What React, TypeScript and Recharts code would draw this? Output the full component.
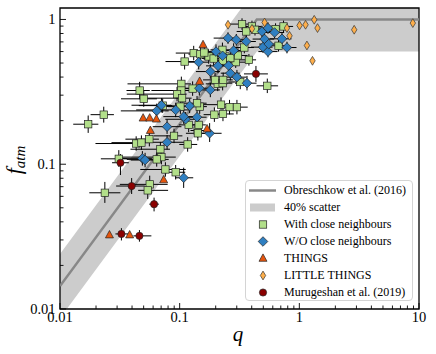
import React from "react";
import {
  ComposedChart,
  XAxis,
  YAxis,
  Scatter,
  Line,
  Area,
  ErrorBar,
  ReferenceArea,
  Label,
} from "recharts";

// Obreschkow et al. (2016) model: knee points of the power law (log-log straight segments)
const modelQ = [0.01, 0.4414, 10];
const modelF = [0.0144, 1, 1];
const bandLo = [0.00864, 0.6, 0.6];
const bandHi = [0.024, 1.667, 1.667];

const xTicks = [
  0.01, 0.02, 0.03, 0.04, 0.05, 0.06, 0.07, 0.08, 0.09,
  0.1, 0.2, 0.3, 0.4, 0.5, 0.6, 0.7, 0.8, 0.9,
  1, 2, 3, 4, 5, 6, 7, 8, 9, 10,
];
const yTicks = [
  0.01, 0.02, 0.03, 0.04, 0.05, 0.06, 0.07, 0.08, 0.09,
  0.1, 0.2, 0.3, 0.4, 0.5, 0.6, 0.7, 0.8, 0.9, 1,
];

// rows: [q, f_atm, q err low (dex), q err high (dex), f err low (dex), f err high (dex)]
const withNeighbours = [
  [0.0172, 0.189, 0.125, 0.085, 0.06, 0.06],
  [0.0232, 0.22, 0.11, 0.085, 0.055, 0.055],
  [0.0463, 0.323, 0.11, 0.085, 0.06, 0.06],
  [0.0501, 0.283, 0.19, 0.11, 0.055, 0.055],
  [0.031, 0.109, 0.15, 0.07, 0.055, 0.06],
  [0.0237, 0.0635, 0.13, 0.13, 0.07, 0.075],
  [0.0433, 0.139, 0.34, 0.05, 0.05, 0.05],
  [0.0479, 0.141, 0.25, 0.06, 0.05, 0.05],
  [0.0558, 0.149, 0.2, 0.08, 0.05, 0.05],
  [0.069, 0.127, 0.25, 0.08, 0.05, 0.05],
  [0.0704, 0.112, 0.33, 0.12, 0.05, 0.05],
  [0.0643, 0.108, 0.25, 0.1, 0.05, 0.05],
  [0.0897, 0.157, 0.17, 0.07, 0.05, 0.05],
  [0.1166, 0.137, 0.07, 0.08, 0.05, 0.05],
  [0.076, 0.092, 0.21, 0.17, 0.05, 0.05],
  [0.0926, 0.088, 0.12, 0.08, 0.05, 0.05],
  [0.0562, 0.0726, 0.25, 0.15, 0.06, 0.06],
  [0.0541, 0.066, 0.08, 0.17, 0.06, 0.06],
  [0.11, 0.512, 0.16, 0.09, 0.055, 0.055],
  [0.1033, 0.359, 0.45, 0.08, 0.05, 0.05],
  [0.1033, 0.323, 0.25, 0.08, 0.05, 0.05],
  [0.0951, 0.305, 0.42, 0.08, 0.05, 0.05],
  [0.1047, 0.286, 0.33, 0.08, 0.05, 0.05],
  [0.2216, 0.258, 0.17, 0.07, 0.05, 0.05],
  [0.261, 0.248, 0.07, 0.07, 0.05, 0.05],
  [0.301, 0.248, 0.07, 0.09, 0.05, 0.05],
  [0.195, 0.22, 0.09, 0.05, 0.05, 0.05],
  [0.23, 0.2225, 0.07, 0.09, 0.05, 0.05],
  [0.1413, 0.171, 0.06, 0.06, 0.05, 0.05],
  [0.1442, 0.187, 0.06, 0.06, 0.05, 0.05],
  [0.1189, 0.187, 0.08, 0.06, 0.05, 0.05],
  [0.54, 0.348, 0.09, 0.09, 0.05, 0.05],
  [0.131, 0.586, 0.15, 0.08, 0.05, 0.05],
  [0.149, 0.576, 0.1, 0.08, 0.05, 0.05],
  [0.1746, 0.555, 0.1, 0.08, 0.05, 0.05],
  [0.241, 0.555, 0.08, 0.08, 0.05, 0.05],
  [0.332, 0.929, 0.1, 0.08, 0.04, 0.04],
  [0.402, 0.895, 0.08, 0.08, 0.04, 0.04],
  [0.36, 0.826, 0.08, 0.08, 0.04, 0.04],
  [0.347, 0.64, 0.1, 0.08, 0.04, 0.04],
  [0.738, 0.895, 0.1, 0.08, 0.04, 0.04],
  [0.67, 0.658, 0.1, 0.08, 0.04, 0.04],
  [0.633, 0.858, 0.08, 0.08, 0.04, 0.04],
  [0.379, 0.526, 0.08, 0.06, 0.04, 0.04],
  [0.294, 0.507, 0.1, 0.08, 0.04, 0.04],
  [0.2286, 0.52, 0.1, 0.08, 0.04, 0.04],
  [0.265, 0.541, 0.1, 0.08, 0.04, 0.04],
  [0.208, 0.359, 0.1, 0.08, 0.05, 0.05],
  [0.1975, 0.3825, 0.1, 0.08, 0.05, 0.05],
  [0.2286, 0.363, 0.1, 0.08, 0.05, 0.05],
  [0.231, 0.3825, 0.1, 0.08, 0.05, 0.05],
  [0.147, 0.25, 0.1, 0.06, 0.05, 0.05],
  [0.1014, 0.25, 0.2, 0.06, 0.05, 0.05],
  [0.426, 0.849, 0.08, 0.08, 0.04, 0.04],
  [0.0721, 0.254, 0.2, 0.08, 0.05, 0.05],
  [0.1283, 0.333, 0.12, 0.08, 0.05, 0.05],
  [0.1397, 0.264, 0.12, 0.08, 0.05, 0.05],
  [0.142, 0.1636, 0.1, 0.08, 0.05, 0.05],
  [0.1607, 0.591, 0.1, 0.08, 0.05, 0.05],
  [0.1922, 0.537, 0.1, 0.08, 0.05, 0.05],
  [0.307, 0.564, 0.1, 0.08, 0.05, 0.05],
  [0.2277, 0.617, 0.1, 0.08, 0.05, 0.05],
  [0.321, 0.37, 0.1, 0.08, 0.05, 0.05],
];

const withoutNeighbours = [
  [0.0704, 0.2556, 0.25, 0.08, 0.05, 0.05],
  [0.0643, 0.2336, 0.3, 0.1, 0.05, 0.05],
  [0.0926, 0.2372, 0.33, 0.12, 0.05, 0.05],
  [0.1122, 0.2045, 0.17, 0.12, 0.05, 0.05],
  [0.0785, 0.1817, 0.12, 0.12, 0.05, 0.05],
  [0.0785, 0.1418, 0.2, 0.15, 0.05, 0.05],
  [0.0488, 0.1098, 0.2, 0.08, 0.05, 0.05],
  [0.0514, 0.1069, 0.12, 0.12, 0.05, 0.05],
  [0.108, 0.0806, 0.07, 0.08, 0.07, 0.07],
  [0.1212, 0.2529, 0.2, 0.12, 0.05, 0.05],
  [0.108, 0.2132, 0.17, 0.08, 0.05, 0.05],
  [0.1397, 0.2113, 0.12, 0.08, 0.05, 0.05],
  [0.178, 0.1636, 0.08, 0.1, 0.06, 0.07],
  [0.146, 0.335, 0.12, 0.08, 0.05, 0.05],
  [0.1804, 0.326, 0.17, 0.08, 0.05, 0.05],
  [0.3653, 0.363, 0.1, 0.08, 0.05, 0.05],
  [0.301, 0.3995, 0.1, 0.08, 0.05, 0.05],
  [0.265, 0.4257, 0.08, 0.08, 0.05, 0.05],
  [0.1804, 0.4366, 0.12, 0.08, 0.05, 0.05],
  [0.2091, 0.478, 0.1, 0.08, 0.05, 0.05],
  [0.2564, 0.4805, 0.08, 0.08, 0.05, 0.05],
  [0.1442, 0.507, 0.12, 0.08, 0.05, 0.05],
  [0.2286, 0.561, 0.1, 0.08, 0.05, 0.05],
  [0.2012, 0.6, 0.1, 0.08, 0.05, 0.05],
  [0.2825, 0.61, 0.1, 0.08, 0.05, 0.05],
  [0.2535, 0.7435, 0.12, 0.08, 0.04, 0.04],
  [0.2974, 0.7236, 0.1, 0.08, 0.04, 0.04],
  [0.3604, 0.7043, 0.1, 0.08, 0.04, 0.04],
  [0.4873, 0.826, 0.1, 0.08, 0.04, 0.04],
  [0.547, 0.872, 0.1, 0.08, 0.04, 0.04],
  [0.621, 0.813, 0.08, 0.08, 0.04, 0.04],
  [0.5124, 0.732, 0.1, 0.08, 0.04, 0.04],
  [0.716, 0.735, 0.1, 0.08, 0.04, 0.04],
  [0.497, 0.644, 0.1, 0.08, 0.04, 0.04],
  [0.547, 0.6, 0.08, 0.08, 0.04, 0.04],
  [0.788, 0.64, 0.1, 0.08, 0.04, 0.04],
  [0.555, 0.676, 0.08, 0.08, 0.04, 0.04],
];

const things = [
  [0.0495, 0.2078],
  [0.0562, 0.2078],
  [0.0639, 0.2045],
  [0.0569, 0.1706],
  [0.0735, 0.0778],
  [0.0259, 0.0324],
  [0.0382, 0.0324],
  [0.1568, 0.668],
  [0.1469, 0.3724],
  [0.1693, 0.1752],
];

const littleThings = [
  [0.2535, 0.919],
  [0.5124, 0.953],
  [0.4021, 0.862],
  [0.788, 0.872],
  [0.828, 0.771],
  [1.004, 0.909],
  [1.127, 0.919],
  [1.332, 0.995],
  [1.419, 0.872],
  [1.157, 0.661],
  [1.288, 0.518],
  [2.874, 0.849],
  [8.88, 0.944],
];

const murugeshan = [
  [0.032, 0.1024, 0.07, 0.07, 0.085, 0.06],
  [0.0397, 0.0707, 0.13, 0.11, 0.055, 0.055],
  [0.0611, 0.053, 0.04, 0.04, 0.05, 0.045],
  [0.0326, 0.033, 0.05, 0.06, 0.045, 0.04],
  [0.0461, 0.032, 0.05, 0.1, 0.04, 0.04],
  [0.434, 0.4207, 0.1, 0.1, 0.055, 0.055],
];

const toRows = (arr: number[][]) =>
  arr.map(([q, f, xl = 0, xr = 0, yd = 0, yu = 0]) => ({
    q,
    f,
    ex: [q - q / Math.pow(10, xl), q * Math.pow(10, xr) - q],
    ey: [f - f / Math.pow(10, yd), f * Math.pow(10, yu) - f],
  }));

const modelRows = modelQ.map((q, i) => ({
  q,
  f: modelF[i],
  band: [bandLo[i], bandHi[i]],
}));

const C_GREEN = "#b2df8a";
const C_BLUE = "#2f7fc1";
const C_THINGS = "#e6550d";
const C_LITTLE = "#fdae4b";
const C_RED = "#8b0000";
const FONT = "'Liberation Serif', 'Times New Roman', serif";

const SquareShape = (p: any) => (
  <rect x={p.cx - 3.7} y={p.cy - 3.7} width={7.4} height={7.4} fill={C_GREEN} stroke="#222" strokeWidth={0.7} />
);
const DiamondShape = (p: any) => (
  <path
    d={`M${p.cx},${p.cy - 4.8}L${p.cx + 4.8},${p.cy}L${p.cx},${p.cy + 4.8}L${p.cx - 4.8},${p.cy}Z`}
    fill={C_BLUE}
    stroke="#222"
    strokeWidth={0.7}
  />
);
const TriangleShape = (p: any) => (
  <path
    d={`M${p.cx},${p.cy - 4.6}L${p.cx + 4},${p.cy + 2.8}L${p.cx - 4},${p.cy + 2.8}Z`}
    fill={C_THINGS}
    stroke="#222"
    strokeWidth={0.7}
  />
);
const ThinDiamondShape = (p: any) => (
  <path
    d={`M${p.cx},${p.cy - 4.4}L${p.cx + 2.7},${p.cy}L${p.cx},${p.cy + 4.4}L${p.cx - 2.7},${p.cy}Z`}
    fill={C_LITTLE}
    stroke="#333"
    strokeWidth={0.7}
  />
);
const CircleShape = (p: any) => (
  <circle cx={p.cx} cy={p.cy} r={3.6} fill={C_RED} stroke="#222" strokeWidth={0.7} />
);

const isMajor = (v: number) => Math.abs(Math.log10(v) - Math.round(Math.log10(v))) < 1e-6;

const XTick = (props: any) => {
  const { x, y, payload } = props;
  const v = payload.value;
  const major = isMajor(v);
  return (
    <g>
      <line x1={x} x2={x} y1={y} y2={y - (major ? 6 : 3.5)} stroke="#000" strokeWidth={0.9} />
      {major && (
        <text x={x} y={y + 12.5} textAnchor="middle" fontSize={14.5} fontFamily={FONT} fill="#000">
          {String(v)}
        </text>
      )}
    </g>
  );
};

const YTick = (props: any) => {
  const { x, y, payload } = props;
  const v = payload.value;
  const major = isMajor(v);
  return (
    <g>
      <line x1={x} x2={x + (major ? 6 : 3.5)} y1={y} y2={y} stroke="#000" strokeWidth={0.9} />
      {major && (
        <text x={x - 4.5} y={y + 5} textAnchor="end" fontSize={14.5} fontFamily={FONT} fill="#000">
          {String(v)}
        </text>
      )}
    </g>
  );
};

const legendItems = [
  { label: "Obreschkow et al. (2016)", kind: "line" },
  { label: "40% scatter", kind: "band" },
  { label: "With close neighbours", kind: "square" },
  { label: "W/O close neighbours", kind: "diamond" },
  { label: "THINGS", kind: "triangle" },
  { label: "LITTLE THINGS", kind: "thin" },
  { label: "Murugeshan et al. (2019)", kind: "circle" },
];

const LegendIcon = ({ kind }: { kind: string }) => {
  const cx = 17;
  const cy = 8.5;
  const p = { cx, cy };
  let el: any = null;
  if (kind === "line") el = <line x1={3} x2={30} y1={cy} y2={cy} stroke="#888" strokeWidth={2.5} />;
  else if (kind === "band") el = <rect x={4} y={cy - 4} width={25} height={8} fill="#cccccc" />;
  else if (kind === "square") el = <SquareShape {...p} />;
  else if (kind === "diamond") el = <DiamondShape {...p} />;
  else if (kind === "triangle") el = <TriangleShape {...p} />;
  else if (kind === "thin") el = <ThinDiamondShape {...p} />;
  else el = <CircleShape {...p} />;
  return (
    <svg width={34} height={17} style={{ position: "absolute", left: 0, top: 0 }}>
      {el}
    </svg>
  );
};

export default function App() {
  const gRows = toRows(withNeighbours);
  const bRows = toRows(withoutNeighbours);
  const tRows = toRows(things);
  const lRows = toRows(littleThings);
  const mRows = toRows(murugeshan);

  return (
    <div style={{ position: "absolute", left: 0, top: 0, width: 436, height: 354 }}>
      <ComposedChart
        width={436}
        height={354}
        data={modelRows}
        margin={{ top: 8, right: 17, bottom: 15, left: 0 }}
      >
        <XAxis
          dataKey="q"
          type="number"
          scale="log"
          domain={[0.01, 10]}
          allowDataOverflow
          ticks={xTicks}
          interval={0}
          tickSize={0}
          tickMargin={0}
          axisLine={false}
          tickLine={false}
          height={30}
          tick={<XTick />}
        >
          <Label
            content={() => (
              <text x={238} y={340.5} textAnchor="middle" fontSize={21} fontStyle="italic" fontFamily={FONT} fill="#000">
                q
              </text>
            )}
          />
        </XAxis>
        <YAxis
          dataKey="f"
          type="number"
          scale="log"
          domain={[0.01, 1.2]}
          allowDataOverflow
          ticks={yTicks}
          interval={0}
          tickSize={0}
          tickMargin={0}
          axisLine={false}
          tickLine={false}
          width={60}
          tick={<YTick />}
        >
          <Label
            content={() => (
              <text
                x={160}
                y={0}
                transform="translate(21,0) rotate(-90) translate(-320,0)"
                textAnchor="middle"
                fontFamily={FONT}
                fill="#000"
              >
                <tspan fontSize={22} fontStyle="italic">f</tspan>
                <tspan fontSize={15} fontStyle="italic" dy={4}>atm</tspan>
              </text>
            )}
          />
        </YAxis>
        <Area
          dataKey="band"
          type="linear"
          stroke="none"
          fill="#cccccc"
          fillOpacity={1}
          isAnimationActive={false}
          activeDot={false}
        />
        <Line
          dataKey="f"
          type="linear"
          stroke="#888888"
          strokeWidth={2.5}
          dot={false}
          activeDot={false}
          isAnimationActive={false}
        />
        <Scatter data={gRows} shape={<SquareShape />} isAnimationActive={false}>
          <ErrorBar dataKey="ex" direction="x" width={0} stroke="#000" strokeWidth={1} />
          <ErrorBar dataKey="ey" direction="y" width={0} stroke="#000" strokeWidth={1} />
        </Scatter>
        <Scatter data={bRows} shape={<DiamondShape />} isAnimationActive={false}>
          <ErrorBar dataKey="ex" direction="x" width={0} stroke="#000" strokeWidth={1} />
          <ErrorBar dataKey="ey" direction="y" width={0} stroke="#000" strokeWidth={1} />
        </Scatter>
        <Scatter data={tRows} shape={<TriangleShape />} isAnimationActive={false} />
        <Scatter data={lRows} shape={<ThinDiamondShape />} isAnimationActive={false} />
        <Scatter data={mRows} shape={<CircleShape />} isAnimationActive={false}>
          <ErrorBar dataKey="ex" direction="x" width={0} stroke="#000" strokeWidth={1} />
          <ErrorBar dataKey="ey" direction="y" width={0} stroke="#000" strokeWidth={1} />
        </Scatter>
        <ReferenceArea
          x1={0.01}
          x2={10}
          y1={0.01}
          y2={1.2}
          fill="none"
          fillOpacity={0}
          stroke="#000"
          strokeWidth={1.3}
          ifOverflow="visible"
        />
      </ComposedChart>
      <div
        style={{
          position: "absolute",
          left: 245,
          top: 180,
          width: 168,
          height: 121,
          boxSizing: "border-box",
          border: "1px solid #d4d4d4",
          borderRadius: 4,
          background: "rgba(255,255,255,0.85)",
          fontFamily: FONT,
          fontSize: 12,
          color: "#000",
        }}
      >
        {legendItems.map((it, i) => (
          <div
            key={it.label}
            style={{ position: "absolute", left: 0, top: 0.5 + i * 17, height: 17, width: 166 }}
          >
            <LegendIcon kind={it.kind} />
            <span style={{ position: "absolute", left: 38, top: 0, lineHeight: "17px", whiteSpace: "nowrap" }}>
              {it.label}
            </span>
          </div>
        ))}
      </div>
    </div>
  );
}
